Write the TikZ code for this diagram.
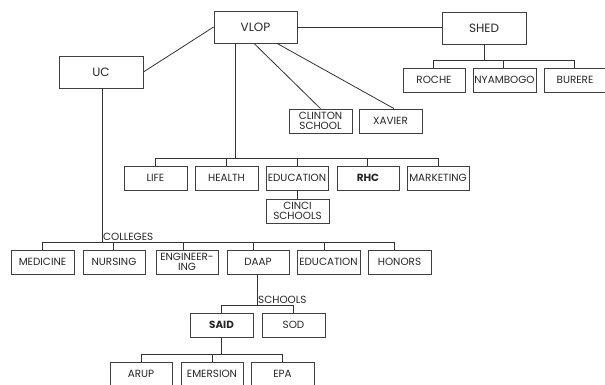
\documentclass[tikz,border=0pt]{standalone}
\usepackage{fontspec}
\setmainfont{Poppins}
\usetikzlibrary{calc}
\begin{document}
\begin{tikzpicture}[x=1pt,y=-1pt,
  box/.style={draw=black!75,line width=0.8pt,rectangle,inner sep=0pt,minimum height=24,
    font=\fontsize{10.4}{10.6}\selectfont,align=center,text=black!85},
  bigbox/.style={box,minimum height=32,font=\fontsize{12}{13}\selectfont},
  conn/.style={draw=black!80,line width=0.8pt},
  lbl/.style={inner sep=1pt,font=\fontsize{10.4}{11}\selectfont,text=black!85}]
\useasboundingbox (0,0) rectangle (605,385);
\clip (0,0) rectangle (605,385);
% top level
\node[bigbox,minimum width=83] (vlop) at (255.5,27) {VLOP};
\node[bigbox,minimum width=84] (uc) at (101,72) {UC};
\node[bigbox,minimum width=84] (shed) at (484,28) {SHED};
% shed children
\node[box,minimum width=62] (roche) at (434,80) {ROCHE};
\node[box,minimum width=63] (nyam) at (504.5,80) {NYAMBOGO};
\node[box,minimum width=62] (burere) at (575,80) {BURERE};
% vlop direct
\node[box,minimum width=63] (clinton) at (320.5,121) {CLINTON\\SCHOOL};
\node[box,minimum width=63] (xavier) at (390.5,121) {XAVIER};
% vlop row
\node[box,minimum width=63] (life) at (155.5,178) {LIFE};
\node[box,minimum width=63] (health) at (226.5,178) {HEALTH};
\node[box,minimum width=62] (educ1) at (297,178) {EDUCATION};
\node[box,minimum width=62,font=\fontsize{10.4}{10.6}\selectfont\bfseries] (rhc) at (368,178) {RHC};
\node[box,minimum width=62] (mark) at (438,178) {MARKETING};
\node[box,minimum width=63] (cinci) at (297.5,211) {CINCI\\SCHOOLS};
% colleges
\node[box,minimum width=63] (med) at (42.5,262) {MEDICINE};
\node[box,minimum width=62] (nurs) at (114,262) {NURSING};
\node[box,minimum width=62] (eng) at (187,262) {ENGINEER-\\ING};
\node[box,minimum width=62] (daap) at (258,262) {DAAP};
\node[box,minimum width=63] (educ2) at (328.5,262) {EDUCATION};
\node[box,minimum width=63] (hon) at (399.5,262) {HONORS};
% schools
\node[box,minimum width=63,font=\fontsize{10.4}{10.6}\selectfont\bfseries] (said) at (221.5,325) {SAID};
\node[box,minimum width=63] (sod) at (293.5,325) {SOD};
% said children
\node[box,minimum width=62] (arup) at (141,374) {ARUP};
\node[box,minimum width=62] (emer) at (212,374) {EMERSION};
\node[box,minimum width=63] (epa) at (282.5,374) {EPA};
% labels
\node[lbl,anchor=south west] (colleges) at (102,242) {COLLEGES};
\node[lbl,anchor=south west] (schools) at (257,305) {SCHOOLS};
% connectors
\draw[conn] (vlop.west) -- (uc.east);
\draw[conn] (vlop.east |- 0,27) -- (shed.west |- 0,27);
\draw[conn] ([xshift=-1.5]vlop.south) -- (clinton.north);
\draw[conn] ([xshift=21.5]vlop.south) -- ([xshift=3.5]xavier.north);
% vlop row
\coordinate (vt) at ([xshift=-20.5]vlop.south);
\draw[conn] (vt) -- (vt |- 0,158);
\draw[conn] (life.north) -- (life.north |- 0,158) -- (mark.north |- 0,158) -- (mark.north);
\draw[conn] (health.north) -- (health.north |- 0,158);
\draw[conn] (educ1.north) -- (educ1.north |- 0,158);
\draw[conn] ([xshift=-1]rhc.north) -- ([xshift=-1]rhc.north |- 0,158);
\draw[conn] (educ1.south) -- (cinci.north -| educ1.south);
% shed
\draw[conn] (shed.south) -- (shed.south |- 0,60);
\draw[conn] ([xshift=-1]roche.north) -- ([xshift=-1]roche.north |- 0,60) -- ([xshift=-1]burere.north |- 0,60) -- ([xshift=-1]burere.north);
\draw[conn] ([xshift=-1.5]nyam.north) -- ([xshift=-1.5]nyam.north |- 0,60);
% uc colleges
\coordinate (ut) at ([xshift=1]uc.south);
\draw[conn] (ut) -- (ut |- 0,242);
\draw[conn] (med.north) -- (med.north |- 0,242) -- ([xshift=-5.5]hon.north |- 0,242) -- ([xshift=-5.5]hon.north);
\draw[conn] ([xshift=-1]nurs.north) -- ([xshift=-1]nurs.north |- 0,242);
\draw[conn] ([xshift=-4]eng.north) -- ([xshift=-4]eng.north |- 0,242);
\draw[conn] ([xshift=-5]daap.north) -- ([xshift=-5]daap.north |- 0,242);
\draw[conn] ([xshift=-4.5]educ2.north) -- ([xshift=-4.5]educ2.north |- 0,242);
% daap schools
\coordinate (dt) at ([xshift=-1]daap.south);
\draw[conn] (dt) -- (dt |- 0,305);
\draw[conn] (said.north) -- (said.north |- 0,305) -- (sod.north |- 0,305) -- (sod.north);
% said
\draw[conn] (said.south) -- (said.south |- 0,354);
\draw[conn] (arup.north) -- (arup.north |- 0,354) -- (epa.north |- 0,354) -- (epa.north);
\draw[conn] (emer.north) -- (emer.north |- 0,354);
\end{tikzpicture}
\end{document}
